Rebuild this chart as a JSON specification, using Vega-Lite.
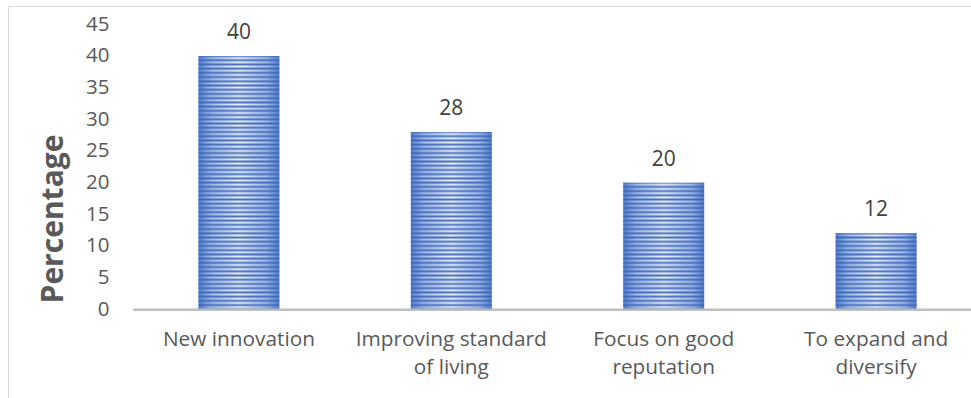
{
  "$schema": "https://vega.github.io/schema/vega-lite/v6.json",
  "autosize": {"type": "none"},
  "padding": {"left": 8, "top": 6, "right": -8, "bottom": -8},
  "width": 971,
  "height": 400,
  "background": "#ffffff",
  "config": {
    "font": "Open Sans",
    "view": {"stroke": "#d9d9d9", "strokeWidth": 1}
  },
  "params": [
    {"name": "dk", "value": "rgba(56,98,184,0.9)"},
    {"name": "lt", "value": "rgba(56,98,184,0)"}
  ],
  "data": {
    "values": [
      {"reason": "New innovation", "pct": 40},
      {"reason": "Improving standard of living", "pct": 28},
      {"reason": "Focus on good reputation", "pct": 20},
      {"reason": "To expand and diversify", "pct": 12}
    ]
  },
  "encoding": {
    "x": {
      "field": "reason",
      "type": "nominal",
      "sort": null,
      "scale": {"range": [124.7, 974.3], "paddingInner": 0.619, "paddingOuter": 0.3095},
      "axis": {
        "title": null,
        "orient": "bottom",
        "offset": -96.7,
        "zindex": 1,
        "ticks": false,
        "tickSize": 0,
        "domainColor": "#bfbfbf",
        "domainWidth": 2.5,
        "labelAngle": 0,
        "labelFont": "Open Sans",
        "labelFontSize": 20.8,
        "labelColor": "#595959",
        "labelPadding": 20.5,
        "labelBaseline": "top",
        "labelLineHeight": 28,
        "labelLimit": 300,
        "labelExpr": "datum.value == 'Improving standard of living' ? ['Improving standard', 'of living'] : datum.value == 'Focus on good reputation' ? ['Focus on good', 'reputation'] : datum.value == 'To expand and diversify' ? ['To expand and', 'diversify'] : datum.value"
      }
    },
    "y": {
      "field": "pct",
      "type": "quantitative",
      "scale": {"domain": [0, 45], "range": [303.3, 18.3], "nice": false, "zero": true},
      "axis": {
        "title": "Percentage",
        "orient": "left",
        "offset": -124.7,
        "values": [0, 5, 10, 15, 20, 25, 30, 35, 40, 45],
        "domain": false,
        "ticks": false,
        "tickSize": 0,
        "grid": false,
        "labelFont": "Open Sans",
        "labelFontSize": 20.5,
        "labelColor": "#595959",
        "labelPadding": 23.7,
        "titleFont": "Open Sans",
        "titleFontSize": 30,
        "titleFontWeight": "bold",
        "titleColor": "#595959",
        "titleAngle": -90,
        "titleAlign": "center",
        "titleBaseline": "alphabetic",
        "titleX": -70.7,
        "titleY": 212.5
      }
    }
  },
  "layer": [
    {
      "mark": {
        "type": "bar",
        "fill": {
          "gradient": "linear",
          "x1": 0, "y1": 0, "x2": 1, "y2": 0,
          "stops": [
            {"offset": 0, "color": "#5680cd"},
            {"offset": 0.15, "color": "#a3bde8"},
            {"offset": 0.5, "color": "#f2f6fc"},
            {"offset": 0.85, "color": "#a3bde8"},
            {"offset": 1, "color": "#5680cd"}
          ]
        }
      }
    },
    {
      "mark": {
        "type": "bar",
        "fill": {"expr": "{gradient:'linear',x1:0,x2:0,y1:1-40/datum.pct,y2:1,stops:[{offset:0,color:dk},{offset:0.0083,color:lt},{offset:0.0167,color:dk},{offset:0.025,color:lt},{offset:0.0333,color:dk},{offset:0.0417,color:lt},{offset:0.05,color:dk},{offset:0.0583,color:lt},{offset:0.0667,color:dk},{offset:0.075,color:lt},{offset:0.0833,color:dk},{offset:0.0917,color:lt},{offset:0.1,color:dk},{offset:0.1083,color:lt},{offset:0.1167,color:dk},{offset:0.125,color:lt},{offset:0.1333,color:dk},{offset:0.1417,color:lt},{offset:0.15,color:dk},{offset:0.1583,color:lt},{offset:0.1667,color:dk},{offset:0.175,color:lt},{offset:0.1833,color:dk},{offset:0.1917,color:lt},{offset:0.2,color:dk},{offset:0.2083,color:lt},{offset:0.2167,color:dk},{offset:0.225,color:lt},{offset:0.2333,color:dk},{offset:0.2417,color:lt},{offset:0.25,color:dk},{offset:0.2583,color:lt},{offset:0.2667,color:dk},{offset:0.275,color:lt},{offset:0.2833,color:dk},{offset:0.2917,color:lt},{offset:0.3,color:dk},{offset:0.3083,color:lt},{offset:0.3167,color:dk},{offset:0.325,color:lt},{offset:0.3333,color:dk},{offset:0.3417,color:lt},{offset:0.35,color:dk},{offset:0.3583,color:lt},{offset:0.3667,color:dk},{offset:0.375,color:lt},{offset:0.3833,color:dk},{offset:0.3917,color:lt},{offset:0.4,color:dk},{offset:0.4083,color:lt},{offset:0.4167,color:dk},{offset:0.425,color:lt},{offset:0.4333,color:dk},{offset:0.4417,color:lt},{offset:0.45,color:dk},{offset:0.4583,color:lt},{offset:0.4667,color:dk},{offset:0.475,color:lt},{offset:0.4833,color:dk},{offset:0.4917,color:lt},{offset:0.5,color:dk},{offset:0.5083,color:lt},{offset:0.5167,color:dk},{offset:0.525,color:lt},{offset:0.5333,color:dk},{offset:0.5417,color:lt},{offset:0.55,color:dk},{offset:0.5583,color:lt},{offset:0.5667,color:dk},{offset:0.575,color:lt},{offset:0.5833,color:dk},{offset:0.5917,color:lt},{offset:0.6,color:dk},{offset:0.6083,color:lt},{offset:0.6167,color:dk},{offset:0.625,color:lt},{offset:0.6333,color:dk},{offset:0.6417,color:lt},{offset:0.65,color:dk},{offset:0.6583,color:lt},{offset:0.6667,color:dk},{offset:0.675,color:lt},{offset:0.6833,color:dk},{offset:0.6917,color:lt},{offset:0.7,color:dk},{offset:0.7083,color:lt},{offset:0.7167,color:dk},{offset:0.725,color:lt},{offset:0.7333,color:dk},{offset:0.7417,color:lt},{offset:0.75,color:dk},{offset:0.7583,color:lt},{offset:0.7667,color:dk},{offset:0.775,color:lt},{offset:0.7833,color:dk},{offset:0.7917,color:lt},{offset:0.8,color:dk},{offset:0.8083,color:lt},{offset:0.8167,color:dk},{offset:0.825,color:lt},{offset:0.8333,color:dk},{offset:0.8417,color:lt},{offset:0.85,color:dk},{offset:0.8583,color:lt},{offset:0.8667,color:dk},{offset:0.875,color:lt},{offset:0.8833,color:dk},{offset:0.8917,color:lt},{offset:0.9,color:dk},{offset:0.9083,color:lt},{offset:0.9167,color:dk},{offset:0.925,color:lt},{offset:0.9333,color:dk},{offset:0.9417,color:lt},{offset:0.95,color:dk},{offset:0.9583,color:lt},{offset:0.9667,color:dk},{offset:0.975,color:lt},{offset:0.9833,color:dk},{offset:0.9917,color:lt},{offset:1,color:dk}]}"}
      }
    },
    {
      "mark": {
        "type": "text",
        "baseline": "alphabetic",
        "align": "center",
        "dy": -17,
        "font": "Open Sans",
        "fontSize": 21,
        "color": "#404040"
      },
      "encoding": {
        "text": {"field": "pct", "type": "quantitative"}
      }
    }
  ]
}
